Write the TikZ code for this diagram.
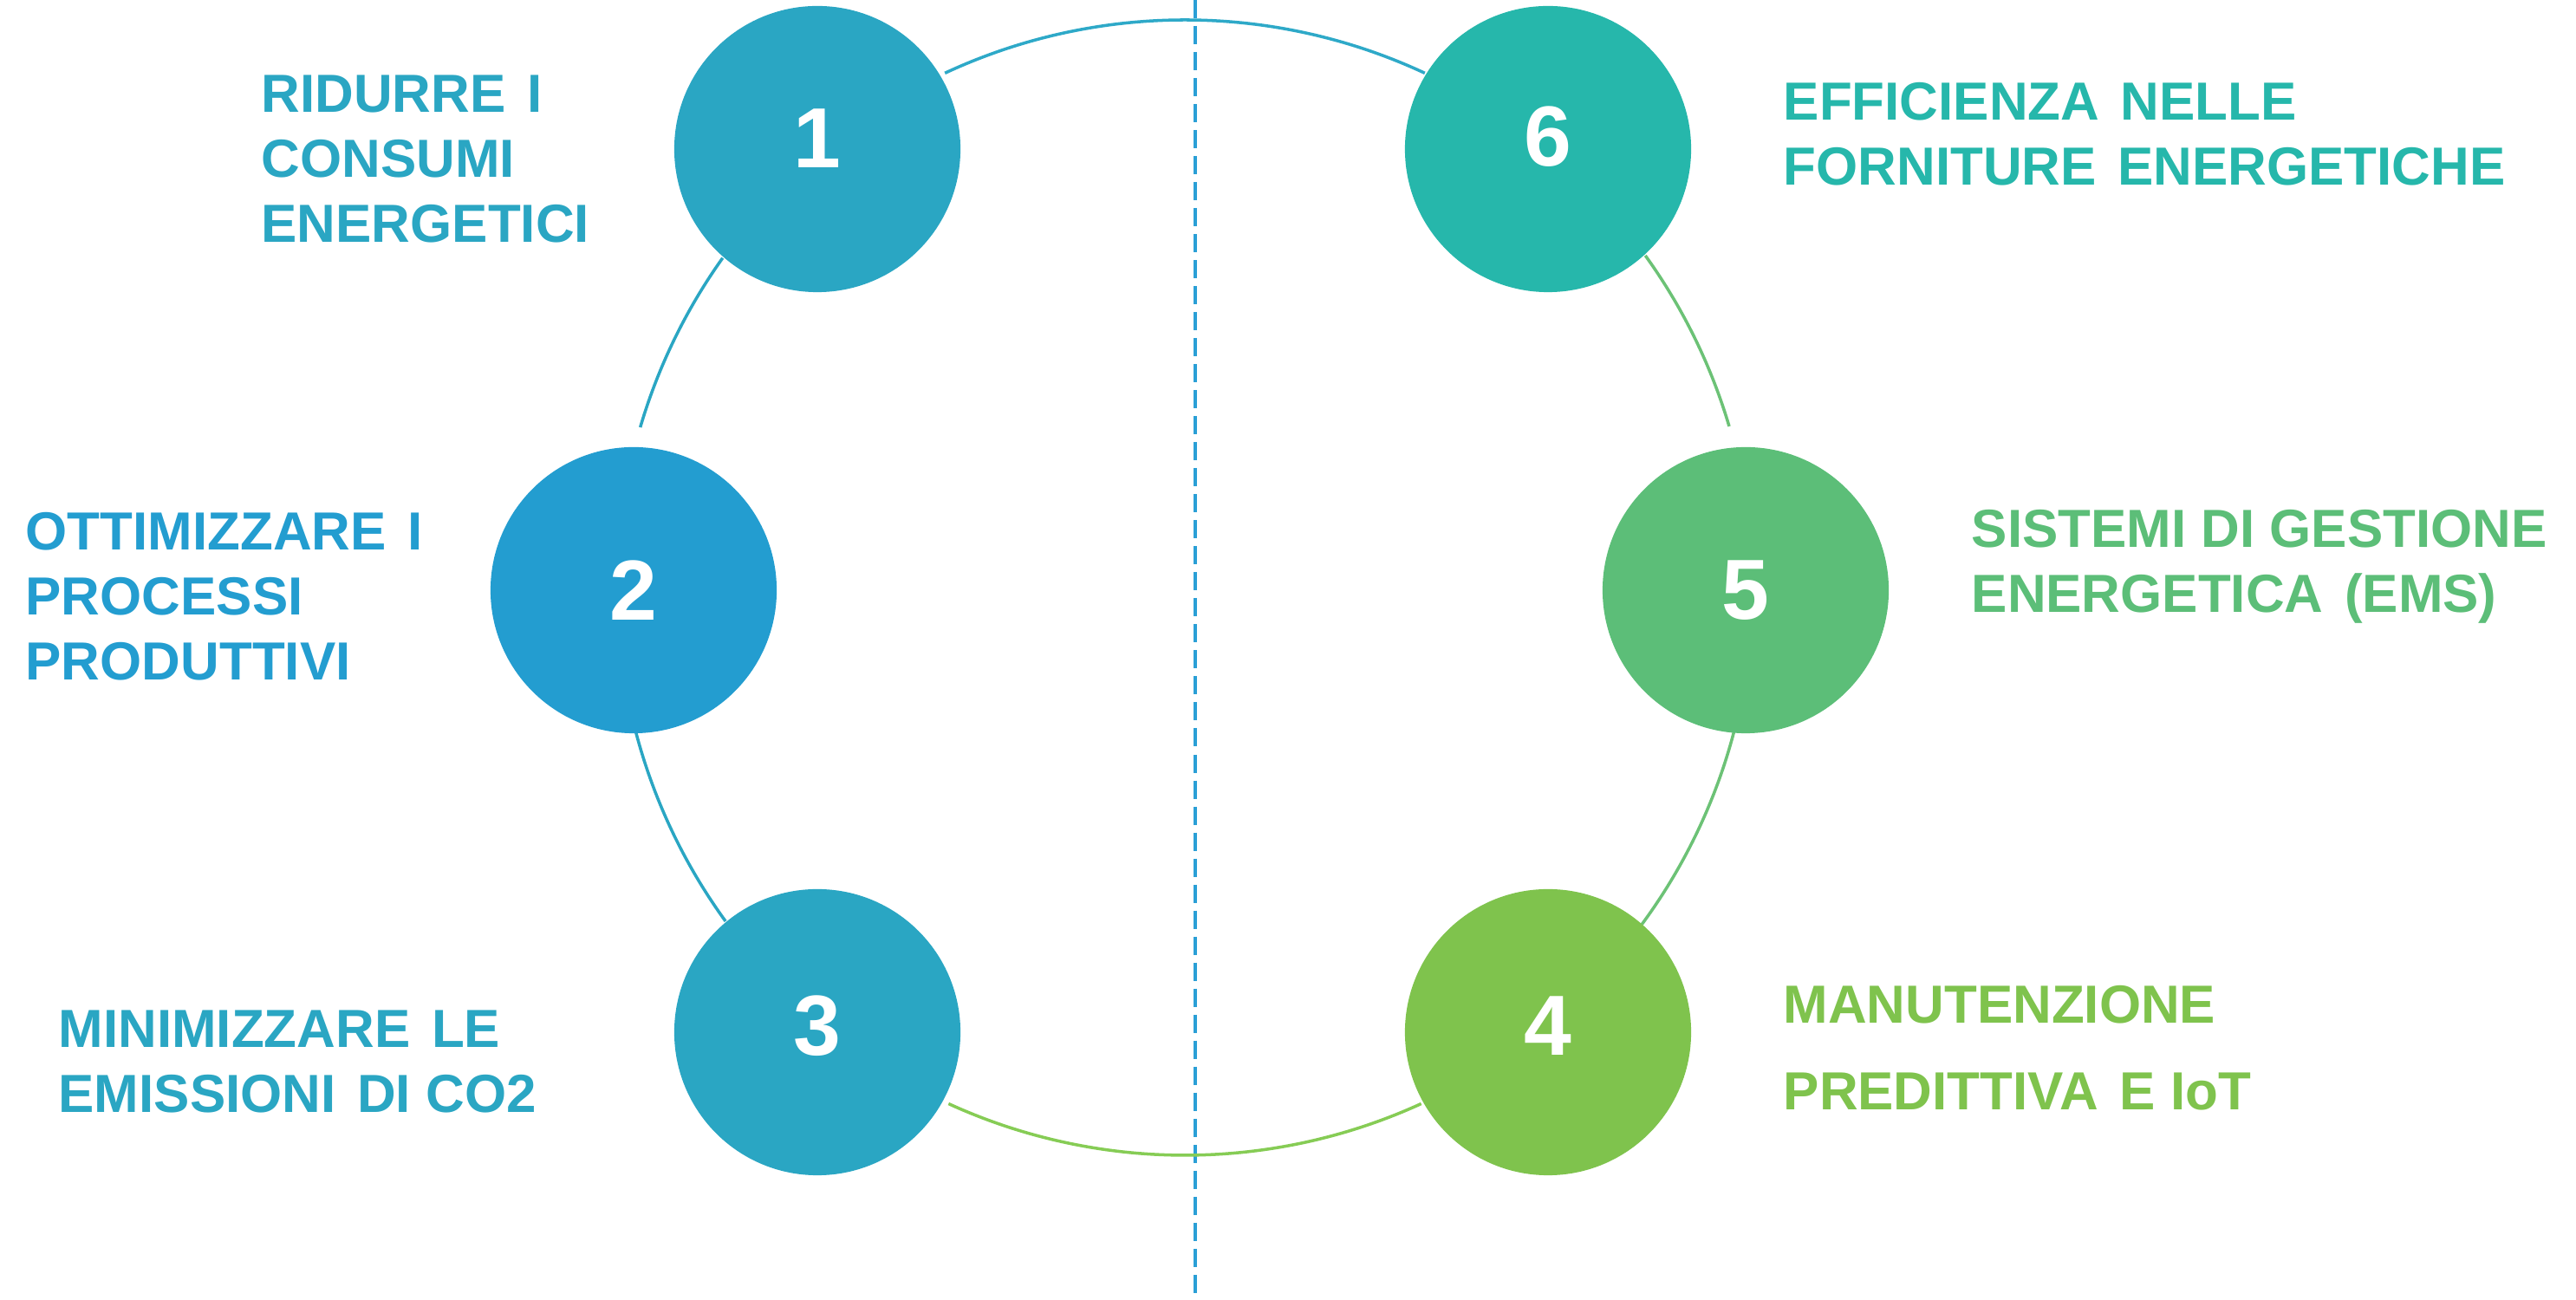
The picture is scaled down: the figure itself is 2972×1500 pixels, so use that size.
\documentclass[tikz,border=0pt]{standalone}
\usepackage{fontspec}
\setmainfont{Liberation Sans}
\usetikzlibrary{calc}
\definecolor{cA}{HTML}{2AA6C3}
\definecolor{cB}{HTML}{239DD0}
\definecolor{cF}{HTML}{26B7AB}
\definecolor{cE}{HTML}{5CBE78}
\definecolor{cD}{HTML}{7FC34D}
\definecolor{dashc}{HTML}{2A9FD6}
\definecolor{arcblue}{HTML}{2EA9C8}
\definecolor{arcgreen}{HTML}{86CC55}
\definecolor{arcmid}{HTML}{6CC276}
\newcommand{\wgap}{\hspace{0.4em}}
\tikzset{
  bubble/.style={circle,minimum size=3.3cm,inner sep=0pt,fill=#1},
  digit/.style={text=white,font=\fontsize{28}{30}\selectfont\bfseries,inner sep=0pt},
  lbl/.style={text=#1,anchor=north west,align=left,inner sep=0pt,
    font=\fontsize{17.6}{21.3}\selectfont\bfseries},
  ring/.style={draw=#1,line width=1pt},
}
\begin{document}
\begin{tikzpicture}[x=0.01cm,y=0.01cm]
\useasboundingbox (0,0) rectangle (2972,1500);
\coordinate (O) at (1367,822);
\def\R{655}
% dashed axis
\coordinate (axT) at (1379,1500);
\coordinate (axB) at (1379,0);
\draw[dashc,line width=0.9pt,dash pattern=on 0.21cm off 0.09cm] (axT) -- (axB);
% ring arcs
\draw[ring=arcblue] ($(O)+(65:\R)$) arc[start angle=65,end angle=115,radius=\R];
\draw[ring=cA] ($(O)+(144.5:\R)$) arc[start angle=144.5,end angle=163.6,radius=\R];
\draw[ring=cA] ($(O)+(194.8:\R)$) arc[start angle=194.8,end angle=216,radius=\R];
\draw[ring=arcgreen] ($(O)+(245.4:\R)$) arc[start angle=245.4,end angle=294.6,radius=\R];
\draw[ring=arcmid] ($(O)+(323.6:\R)$) arc[start angle=323.6,end angle=345.3,radius=\R];
\draw[ring=arcmid] ($(O)+(16.5:\R)$) arc[start angle=16.5,end angle=35.8,radius=\R];
% bubbles
\node[bubble=cA] (c1) at (943,1328) {};
\node[bubble=cB] (c2) at (731,819) {};
\node[bubble=cA] (c3) at (943,309) {};
\node[bubble=cD] (c4) at (1786,309) {};
\node[bubble=cE] (c5) at (2014,819) {};
\node[bubble=cF] (c6) at (1786,1328) {};
\node[digit] (d1) at ($(c1)+(0,12)$) {1};
\node[digit] (d2) at (c2) {2};
\node[digit] (d3) at ($(c3)+(0,7)$) {3};
\node[digit] (d4) at ($(c4)+(0,7)$) {4};
\node[digit] (d5) at (c5) {5};
\node[digit] (d6) at ($(c6)+(0,14)$) {6};
% labels
\node[lbl=cA] (t1) at (301,1414) {RIDURRE\wgap I\\CONSUMI\\ENERGETICI};
\node[lbl=cB] (t2) at (29,909) {OTTIMIZZARE\wgap I\\PROCESSI\\PRODUTTIVI};
\node[lbl=cA] (t3) at (67,335) {MINIMIZZARE\wgap LE\\EMISSIONI\wgap DI CO2};
\node[lbl=cF] (t6) at (2057,1405) {EFFICIENZA\wgap NELLE\\FORNITURE\wgap ENERGETICHE};
\node[lbl=cE] (t5) at (2274,912) {SISTEMI DI GESTIONE\\ENERGETICA\wgap (EMS)};
\node[lbl=cD,font=\fontsize{17.6}{28.2}\selectfont\bfseries] (t4) at (2057,363) {MANUTENZIONE\\PREDITTIVA\wgap E IoT};
\end{tikzpicture}
\end{document}
